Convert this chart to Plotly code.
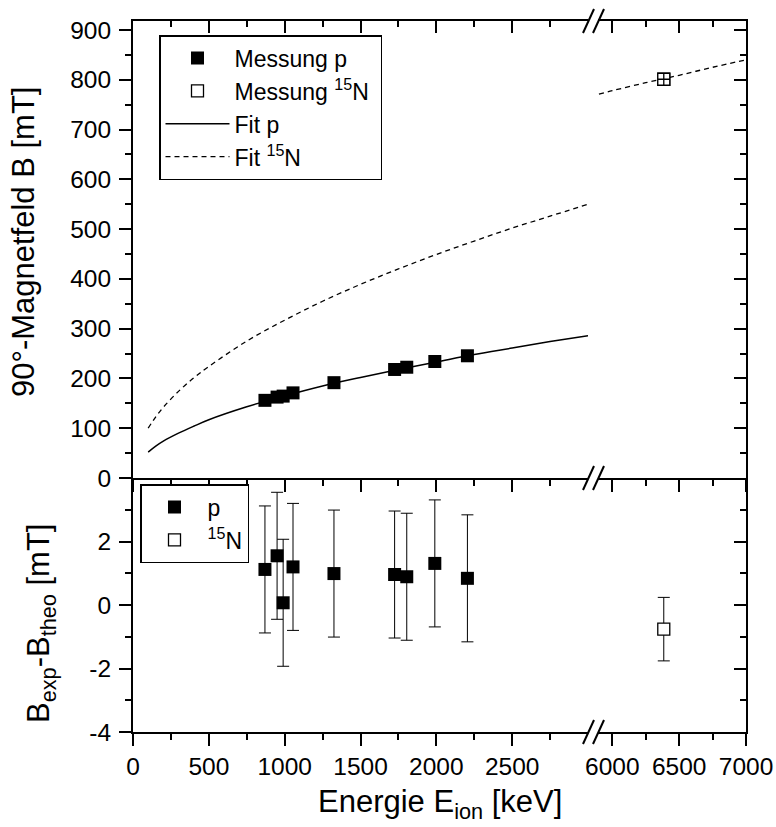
import plotly.graph_objects as go

# ---------------- data ----------------
E_p = [870, 950, 990, 1055, 1325, 1725, 1805, 1990, 2205]          # keV
B_p = [156, 162.5, 164.5, 171, 191.5, 218, 222.5, 234, 245.5]      # mT
E_N = [6385]
B_N = [801]

fit_E_left = [100, 150, 200, 300, 400, 500, 750, 1000, 1250, 1500, 1750,
              2000, 2250, 2500, 2750, 3000]
fit_p_B = [52, 64, 74, 90, 104, 117, 143, 165, 185, 202, 218, 233, 248,
           261, 274, 286]
fit_N_B_left = [100, 123, 142, 174, 201, 224, 275, 317, 355, 389, 420,
                449, 476, 502, 526, 550]
fit_E_right = [5900, 6000, 6250, 6500, 6750, 7000]
fit_N_B_right = [771, 778, 794, 809, 825, 840]

dB_p = [1.12, 1.55, 0.07, 1.20, 0.99, 0.96, 0.89, 1.31, 0.84]
dB_p_err = [2.0, 2.0, 2.0, 2.0, 2.0, 2.0, 2.0, 2.0, 2.0]
dB_N = [-0.76]
dB_N_err = [1.0]

x_left_ticks = [0, 500, 1000, 1500, 2000, 2500]
x_right_ticks = [6000, 6500, 7000]
y_top_ticks = [0, 100, 200, 300, 400, 500, 600, 700, 800, 900]
y_bot_ticks = [-4, -2, 0, 2]
y_bot_text = ["-4", "-2", "0", "2"]

# ---------------- layout geometry (page pixels) ----------------
W, H = 776, 827
ML, MR, MT, MB = 133, 30, 21, 95
PW = W - ML - MR
PH = H - MT - MB


def px_x(p):
    return (p - ML) / PW


def px_y(p):
    return (H - MB - p) / PH


L_DOM = [0, px_x(588)]
R_DOM = [px_x(598), 1]
Y_SPLIT = px_y(478)
TOP_DOM = [Y_SPLIT, 1]
BOT_DOM = [0, Y_SPLIT]
XL_RANGE = [0, 3000]
XR_RANGE = [5893, 7000]
YT_RANGE = [0, 918]
YB_RANGE = [-4, 4]

FONT = "Liberation Sans, Arial, Helvetica, sans-serif"
BLACK = "black"

fig = go.Figure()

# fits
fig.add_trace(go.Scatter(x=fit_E_left, y=fit_p_B, mode="lines", name="Fit p",
                         line=dict(color=BLACK, width=1.5, shape="spline"),
                         xaxis="x", yaxis="y", legend="legend", legendrank=3))
fig.add_trace(go.Scatter(x=fit_E_left, y=fit_N_B_left, mode="lines",
                         name="Fit <sup>15</sup>N",
                         line=dict(color=BLACK, width=1.3, dash="5px,4px", shape="spline"),
                         xaxis="x", yaxis="y", legend="legend", legendrank=4))
fig.add_trace(go.Scatter(x=fit_E_right, y=fit_N_B_right, mode="lines",
                         showlegend=False,
                         line=dict(color=BLACK, width=1.3, dash="5px,4px", shape="spline"),
                         xaxis="x2", yaxis="y"))
# measurements (top)
fig.add_trace(go.Scatter(x=E_p, y=B_p, mode="markers", name="Messung p",
                         marker=dict(symbol="square", size=13, color=BLACK),
                         xaxis="x", yaxis="y", legend="legend", legendrank=1))
fig.add_trace(go.Scatter(x=E_N, y=B_N, mode="markers",
                         name="Messung <sup>15</sup>N\u00a0",
                         marker=dict(symbol="square", size=12, color="white",
                                     line=dict(color=BLACK, width=1.3)),
                         xaxis="x2", yaxis="y", legend="legend", legendrank=2))
fig.add_trace(go.Scatter(x=E_N, y=B_N, mode="markers", showlegend=False,
                         marker=dict(symbol="square-cross", size=12, color="white",
                                     line=dict(color=BLACK, width=1.3)),
                         xaxis="x2", yaxis="y"))
# residuals (bottom)
fig.add_trace(go.Scatter(x=E_p, y=dB_p, mode="markers", name="p",
                         marker=dict(symbol="square", size=13, color=BLACK),
                         error_y=dict(type="data", array=dB_p_err, visible=True,
                                      color=BLACK, thickness=1, width=6),
                         xaxis="x3", yaxis="y2", legend="legend2"))
fig.add_trace(go.Scatter(x=E_N, y=dB_N, mode="markers", name="<sup>15</sup>N",
                         marker=dict(symbol="square", size=12, color="white",
                                     line=dict(color=BLACK, width=1.3)),
                         error_y=dict(type="data", array=dB_N_err, visible=True,
                                      color=BLACK, thickness=1, width=6),
                         xaxis="x4", yaxis="y2", legend="legend2"))
# empty traces so that the mirror (inside-tick) axes are drawn
for xa, ya in [("x5", "y"), ("x6", "y"), ("x2", "y3"), ("x4", "y4")]:
    fig.add_trace(go.Scatter(x=[], y=[], xaxis=xa, yaxis=ya, showlegend=False,
                             hoverinfo="skip"))

TICKFONT = dict(family=FONT, size=24.5, color=BLACK)


def axis(**kw):
    base = dict(showgrid=False, zeroline=False, showline=True, linecolor=BLACK,
                linewidth=2, ticks="outside", ticklen=12, tickwidth=2,
                tickcolor=BLACK, tickfont=TICKFONT, fixedrange=True,
                automargin=False, ticklabeloverflow="allow")
    base.update(kw)
    return base


def minor(vals, ticks="outside"):
    return dict(ticks=ticks, ticklen=6, tickwidth=2, tickcolor=BLACK,
                showgrid=False, tickmode="array", tickvals=vals)


XL_MINOR = [250, 750, 1250, 1750, 2250, 2750]
XR_MINOR = [6250, 6750]
YT_MINOR = [50, 150, 250, 350, 450, 550, 650, 750, 850]
YB_MINOR = [-3, -1, 1, 3]

fig.update_layout(
    width=W, height=H,
    margin=dict(l=ML, r=MR, t=MT, b=MB, autoexpand=False),
    paper_bgcolor="white", plot_bgcolor="white",
    font=dict(family=FONT, color=BLACK),
    xaxis=axis(domain=L_DOM, anchor="y", range=XL_RANGE, tickmode="array",
               tickvals=x_left_ticks, showticklabels=False, minor=minor(XL_MINOR)),
    xaxis2=axis(domain=R_DOM, anchor="y", range=XR_RANGE, tickmode="array",
                tickvals=x_right_ticks, showticklabels=False, minor=minor(XR_MINOR)),
    xaxis3=axis(domain=L_DOM, anchor="y2", range=XL_RANGE, tickmode="array",
                tickvals=x_left_ticks, minor=minor(XL_MINOR)),
    xaxis4=axis(domain=R_DOM, anchor="y2", range=XR_RANGE, tickmode="array",
                tickvals=x_right_ticks, minor=minor(XR_MINOR)),
    xaxis5=axis(overlaying="x", anchor="y", side="top", range=XL_RANGE,
                tickmode="array", tickvals=x_left_ticks, ticks="inside",
                showticklabels=False, minor=minor(XL_MINOR, ticks="inside")),
    xaxis6=axis(overlaying="x2", anchor="y", side="top", range=XR_RANGE,
                tickmode="array", tickvals=x_right_ticks, ticks="inside",
                showticklabels=False, minor=minor(XR_MINOR, ticks="inside")),
    yaxis=axis(domain=TOP_DOM, anchor="x", range=YT_RANGE, tickmode="array",
               tickvals=y_top_ticks, minor=minor(YT_MINOR), ticklabelstandoff=3),
    yaxis2=axis(domain=BOT_DOM, anchor="x3", range=YB_RANGE, tickmode="array",
                tickvals=y_bot_ticks, ticktext=y_bot_text, minor=minor(YB_MINOR),
                ticklabelstandoff=3),
    yaxis3=axis(overlaying="y", anchor="x2", side="right", range=YT_RANGE,
                tickmode="array", tickvals=y_top_ticks, ticks="inside",
                showticklabels=False, minor=minor(YT_MINOR, ticks="inside")),
    yaxis4=axis(overlaying="y2", anchor="x4", side="right", range=YB_RANGE,
                tickmode="array", tickvals=y_bot_ticks, ticks="inside",
                showticklabels=False, minor=minor(YB_MINOR, ticks="inside")),
    legend=dict(x=px_x(159), y=px_y(35), xanchor="left", yanchor="top",
                bgcolor="white", bordercolor=BLACK, borderwidth=1.5,
                font=dict(family=FONT, size=23, color=BLACK),
                traceorder="normal", itemwidth=64, tracegroupgap=0),
    legend2=dict(x=px_x(140), y=px_y(484), xanchor="left", yanchor="top",
                 bgcolor="white", bordercolor=BLACK, borderwidth=1.5,
                 font=dict(family=FONT, size=23, color=BLACK),
                 traceorder="normal", itemwidth=56),
    showlegend=True,
)

# axis titles
fig.add_annotation(text="90°-Magnetfeld B [mT]", xref="paper", yref="paper",
                   x=px_x(23), y=px_y(242), textangle=-90, showarrow=False,
                   xanchor="center", yanchor="middle",
                   font=dict(family=FONT, size=31, color=BLACK))
fig.add_annotation(text="B<sub>exp</sub>-B<sub>theo</sub> [mT]", xref="paper",
                   yref="paper", x=px_x(41), y=px_y(624), textangle=-90,
                   showarrow=False, xanchor="center", yanchor="middle",
                   font=dict(family=FONT, size=31, color=BLACK))
fig.add_annotation(text="Energie E<sub>ion</sub> [keV]", xref="paper",
                   yref="paper", x=px_x(440), y=px_y(782), showarrow=False,
                   xanchor="center", yanchor="top",
                   font=dict(family=FONT, size=31, color=BLACK))

# axis-break marks
for yc in (21, 478, 732):
    for xc in (588.5, 598.5):
        fig.add_shape(type="line", xref="paper", yref="paper",
                      x0=px_x(xc - 5.5), y0=px_y(yc + 12),
                      x1=px_x(xc + 5.5), y1=px_y(yc - 12),
                      line=dict(color=BLACK, width=2))

fig.write_html("out.html", config={"displayModeBar": False},
               post_script="document.body.style.margin='0px';"
                           "document.body.style.overflow='hidden';")
